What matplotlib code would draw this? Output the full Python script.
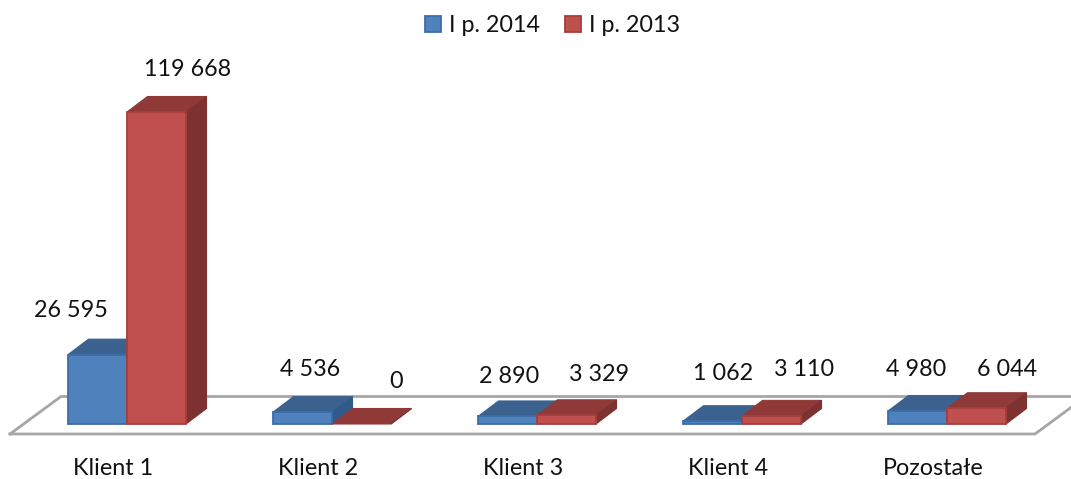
import matplotlib
matplotlib.use('Agg')
import matplotlib.pyplot as plt
from matplotlib.patches import Patch
import numpy as np

categories = ['Klient 1', 'Klient 2', 'Klient 3', 'Klient 4', 'Pozostałe']
values_2014 = [26595, 4536, 2890, 1062, 4980]
values_2013 = [119668, 0, 3329, 3110, 6044]
labels_2014 = ['26 595', '4 536', '2 890', '1 062', '4 980']
labels_2013 = ['119 668', '0', '3 329', '3 110', '6 044']
series_names = ['I p. 2014', 'I p. 2013']

# label shift from the top front left corner of each bar, pixels
shift_2014 = [(3, 44), (37, 43), (31, 40), (40, 48), (28, 42)]
shift_2013 = [(61, 43), (64, 43), (62, 41), (62, 46), (60, 39)]

plt.rcParams['font.family'] = ['Lato', 'DejaVu Sans']

W, H = 1071, 479
PX_PER_UNIT = 312 / 119668
PX_PER_CAT = 205
X0 = 127      # px of the boundary between the two bars of the first category
Y0 = 424      # px of the base line
FLOOR_Y = 434
FS = 16.8

fig = plt.figure(figsize=(W / 100, H / 100), dpi=100)
ax = fig.add_axes([0, 1 - FLOOR_Y / H, 1, FLOOR_Y / H])
ax.set_xlim(-X0 / PX_PER_CAT, (W - X0) / PX_PER_CAT)
ax.set_ylim(-(FLOOR_Y - Y0) / PX_PER_UNIT, Y0 / PX_PER_UNIT)

bar_w = 59 / PX_PER_CAT
dx = 20.5 / PX_PER_CAT
dy = 15.5 / PX_PER_UNIT

# floor
fl_back = 27.5 / PX_PER_UNIT
fl_front = -10 / PX_PER_UNIT
fx = [(10 - X0) / PX_PER_CAT, (61 - X0) / PX_PER_CAT, (W + 2 - X0) / PX_PER_CAT]
ax.plot(fx, [fl_front, fl_back, fl_back], color='#a6a6a6', lw=2, zorder=1, clip_on=False)
ax.plot([(10 - X0) / PX_PER_CAT, (1035 - X0) / PX_PER_CAT, (W + 2 - X0) / PX_PER_CAT],
        [fl_front, fl_front, 18 / PX_PER_UNIT], color='#a6a6a6', lw=2, zorder=1, clip_on=False)


def draw_bar(left, val, front, top, side, edge, z):
    right = left + bar_w
    ax.fill([left, left + dx, right + dx, right], [val, val + dy, val + dy, val],
            facecolor=top, edgecolor=top, lw=0.8, zorder=z)
    ax.fill([right, right + dx, right + dx, right], [0, dy, val + dy, val],
            facecolor=side, edgecolor=side, lw=0.8, zorder=z)
    if val > 0:
        ax.bar(left, val, bar_w, align='edge', color=front, edgecolor=edge, lw=1.3, zorder=z + 0.1)


for i in range(len(categories)):
    draw_bar(i - bar_w, values_2014[i], '#4f81bd', '#3b618f', '#2f5a8a', '#3d6da8', 2 + i)
    draw_bar(i, values_2013[i], '#c0504d', '#8f3a38', '#7d3130', '#a53f3c', 2.5 + i)
    ax.annotate(labels_2014[i], (i - bar_w, values_2014[i]), xytext=shift_2014[i],
                textcoords='offset pixels', ha='center', va='center', fontsize=FS, color='#111111', zorder=20)
    ax.annotate(labels_2013[i], (i, values_2013[i]), xytext=shift_2013[i],
                textcoords='offset pixels', ha='center', va='center', fontsize=FS, color='#111111', zorder=20)

ax.set_xticks(np.arange(len(categories)) - 14 / PX_PER_CAT)
ax.set_xticklabels(categories, fontsize=FS, color='#111111')
ax.tick_params(axis='x', length=0, pad=17)
ax.set_yticks([])
for s in ax.spines.values():
    s.set_visible(False)
ax.patch.set_alpha(0)

handles = [Patch(facecolor='#4f81bd', edgecolor='#3d6da8', lw=1.3),
           Patch(facecolor='#c0504d', edgecolor='#a53f3c', lw=1.3)]
fig.legend(handles, series_names, loc='upper center', bbox_to_anchor=(0.516, 1.012), ncol=2, frameon=False,
           fontsize=FS, handlelength=0.65, handleheight=0.7, handletextpad=0.35, columnspacing=1.1,
           labelcolor='#111111')

fig.savefig('out.png', dpi=100)
